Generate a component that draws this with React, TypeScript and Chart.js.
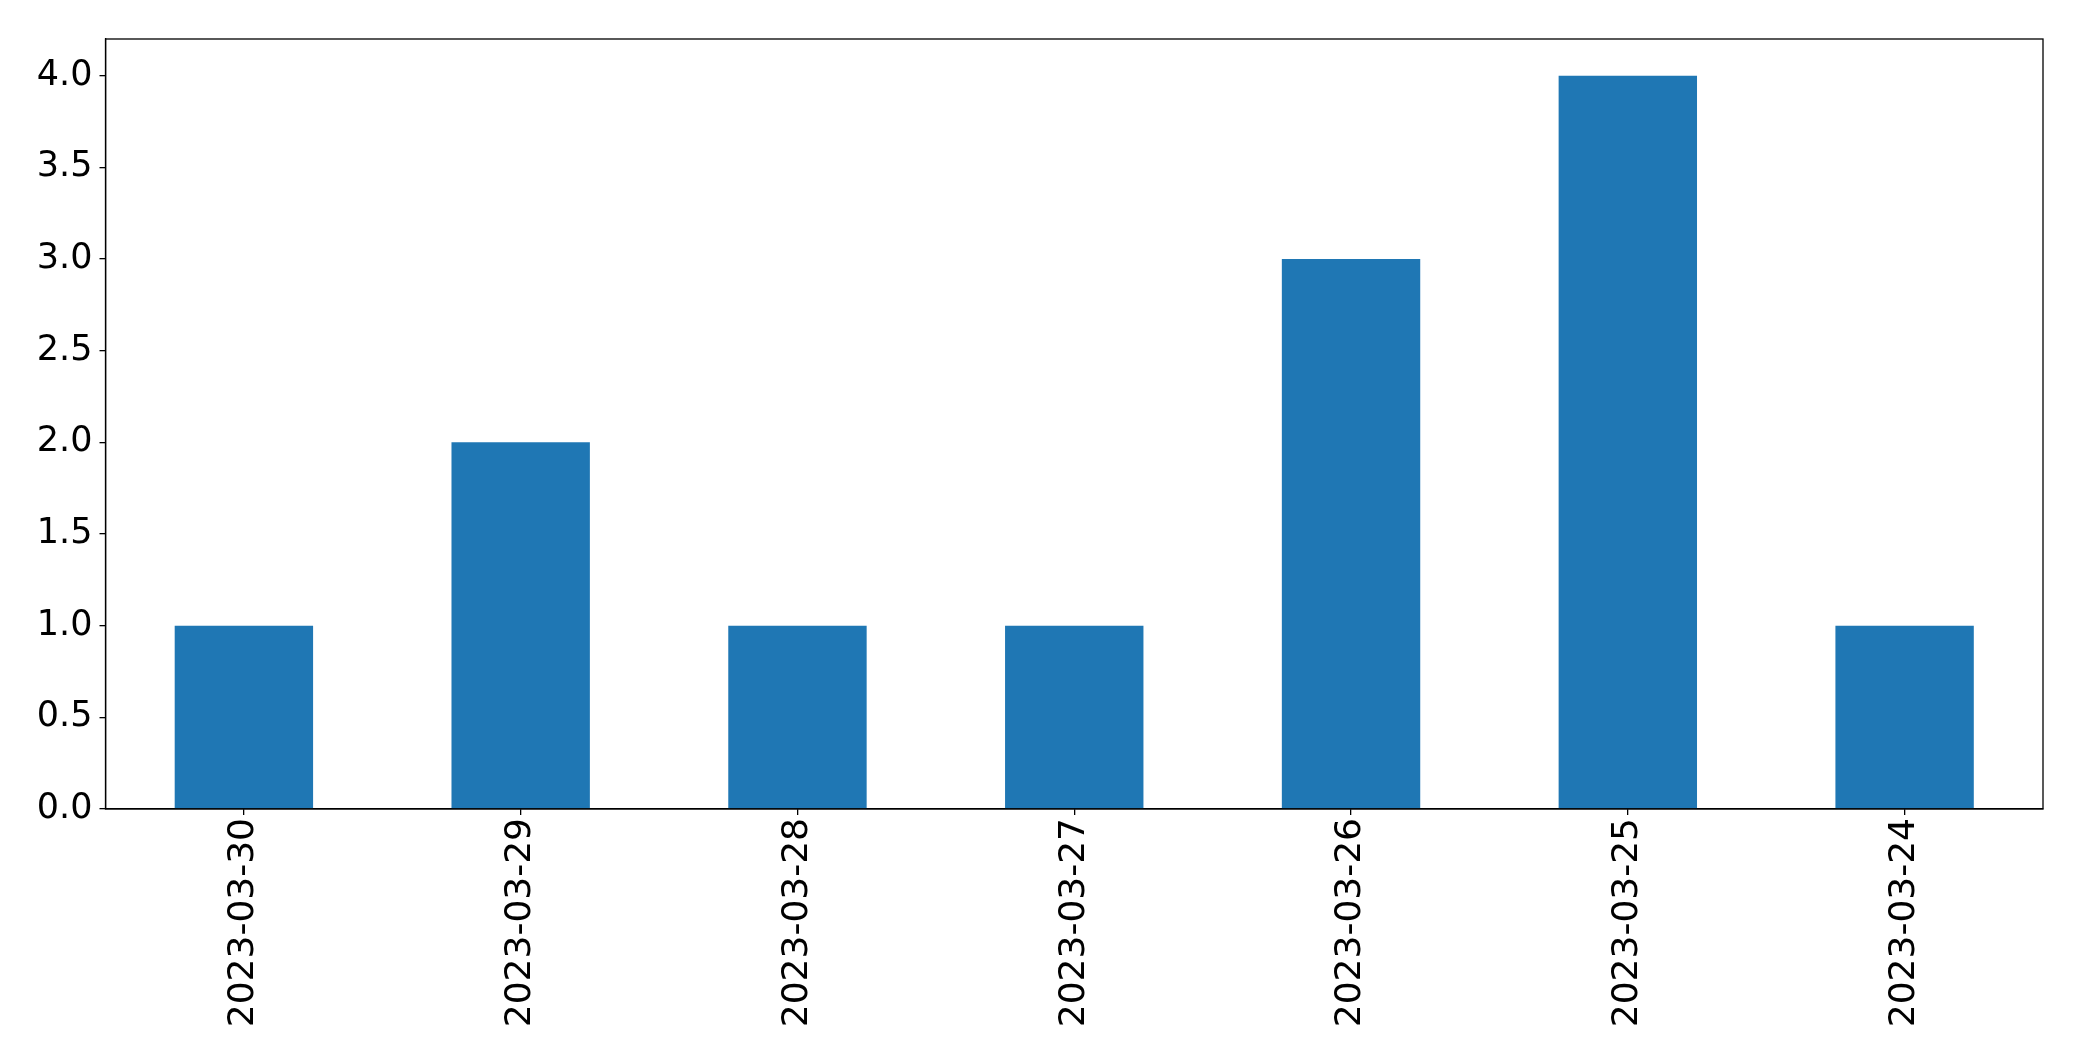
import React, { useEffect, useRef } from "react";
import { Chart, registerables } from "chart.js";

Chart.register(...registerables);

const categories = ["2023-03-30", "2023-03-29", "2023-03-28", "2023-03-27", "2023-03-26", "2023-03-25", "2023-03-24"];
const counts = [1, 2, 1, 1, 3, 4, 1];
const yTicks = [0, 0.5, 1, 1.5, 2, 2.5, 3, 3.5, 4];

const W = 2082;
const H = 1061;
const FONT = "'DejaVu Sans', sans-serif";

const framePlugin = {
  id: "frame",
  afterDraw(chart: any) {
    const { ctx, chartArea } = chart;
    ctx.save();
    ctx.strokeStyle = "#000";
    ctx.lineWidth = 1.3;
    ctx.strokeRect(chartArea.left, chartArea.top, chartArea.right - chartArea.left, chartArea.bottom - chartArea.top);
    ctx.restore();
  },
};

export default function App() {
  const ref = useRef<HTMLCanvasElement>(null);
  useEffect(() => {
    document.body.style.margin = "0";
    const chart = new Chart(ref.current!, {
      type: "bar",
      data: {
        labels: categories,
        datasets: [
          {
            data: counts,
            backgroundColor: "#1f77b4",
            categoryPercentage: 1,
            barPercentage: 0.5,
          },
        ],
      },
      options: {
        responsive: false,
        animation: false,
        devicePixelRatio: 1,
        layout: { padding: { left: 0, top: 39, right: 39, bottom: 0 } },
        plugins: { legend: { display: false }, tooltip: { enabled: false } },
        scales: {
          x: {
            grid: { display: true, drawOnChartArea: false, drawTicks: true, tickLength: 6, color: "#000", lineWidth: 1.3, offset: false },
            border: { display: true, color: "#000", width: 1.3 },
            ticks: {
              color: "#000",
              font: { family: FONT, size: 36 },
              minRotation: 90,
              maxRotation: 90,
              padding: 3,
              autoSkip: false,
            },
            afterFit(scale: any) {
              scale.height = H - 809;
            },
          },
          y: {
            min: 0,
            max: 4.2,
            grid: { drawOnChartArea: false, drawTicks: true, tickLength: 6, color: "#000", lineWidth: 1.3 },
            border: { display: true, color: "#000", width: 1.3 },
            ticks: {
              color: "#000",
              font: { family: FONT, size: 35 },
              padding: 7,
              callback: (v: any) => Number(v).toFixed(1),
            },
            afterBuildTicks(scale: any) {
              scale.ticks = yTicks.map((v) => ({ value: v }));
            },
            afterFit(scale: any) {
              scale.width = 105.5;
            },
          },
        },
      },
      plugins: [framePlugin],
    });
    return () => chart.destroy();
  }, []);
  return <canvas ref={ref} width={W} height={H} style={{ width: W, height: H, display: "block" }} />;
}
